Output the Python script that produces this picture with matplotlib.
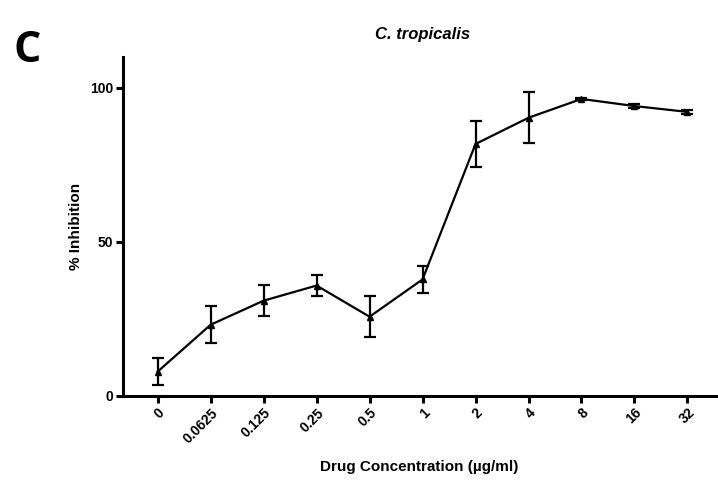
import matplotlib
matplotlib.use("Agg")
import matplotlib.pyplot as plt
from matplotlib import font_manager

concentrations = ["0", "0.0625", "0.125", "0.25", "0.5", "1", "2", "4", "8", "16", "32"]
inhibition = [7.9, 23.1, 30.9, 35.8, 25.7, 37.8, 81.7, 90.2, 96.3, 94.0, 92.1]
sem = [4.5, 6.0, 5.0, 3.3, 6.6, 4.5, 7.4, 8.2, 0.4, 0.6, 0.6]
y_ticks = [0, 50, 100]

names = {f.name for f in font_manager.fontManager.ttflist}
narrow = "Liberation Sans Narrow" if "Liberation Sans Narrow" in names else "Liberation Sans"
plt.rcParams['font.family'] = [narrow, 'DejaVu Sans']

fig = plt.figure(figsize=(7.18, 4.87), dpi=100)
ax = fig.add_axes([0.1709, 0.1869, 0.8271, 0.6967])

x = list(range(len(concentrations)))
ax.errorbar(x, inhibition, yerr=sem, color='black', marker='^', markersize=5,
            linewidth=1.6, elinewidth=1.6, capsize=4, capthick=1.6)

ax.set_xlim(-0.66, 10.55)
ax.set_ylim(0, 110)
ax.set_yticks(y_ticks)
ax.set_yticklabels([str(v) for v in y_ticks], fontsize=10, fontweight='bold')
ax.set_xticks(x)
ax.set_xticklabels(concentrations, rotation=45, ha='right', rotation_mode='anchor',
                   fontsize=10, fontweight='bold')

for s in ['top', 'right']:
    ax.spines[s].set_visible(False)
for s in ['left', 'bottom']:
    ax.spines[s].set_linewidth(2.2)
ax.tick_params(axis='both', width=2.2, length=5, pad=2)

ax.set_ylabel('% Inhibition', fontsize=11, fontweight='bold', labelpad=5)
ax.set_xlabel('Drug Concentration (µg/ml)', fontsize=11, fontweight='bold', labelpad=10)
fig.text(0.588, 0.93, 'C. tropicalis', fontsize=12, fontweight='bold', fontstyle='italic',
         ha='center', va='center')
fig.text(0.038, 0.897, 'C', fontsize=31, fontweight='bold', ha='center', va='center',
         family=['Open Sans', 'DejaVu Sans'])

fig.savefig('out.png', dpi=100)
